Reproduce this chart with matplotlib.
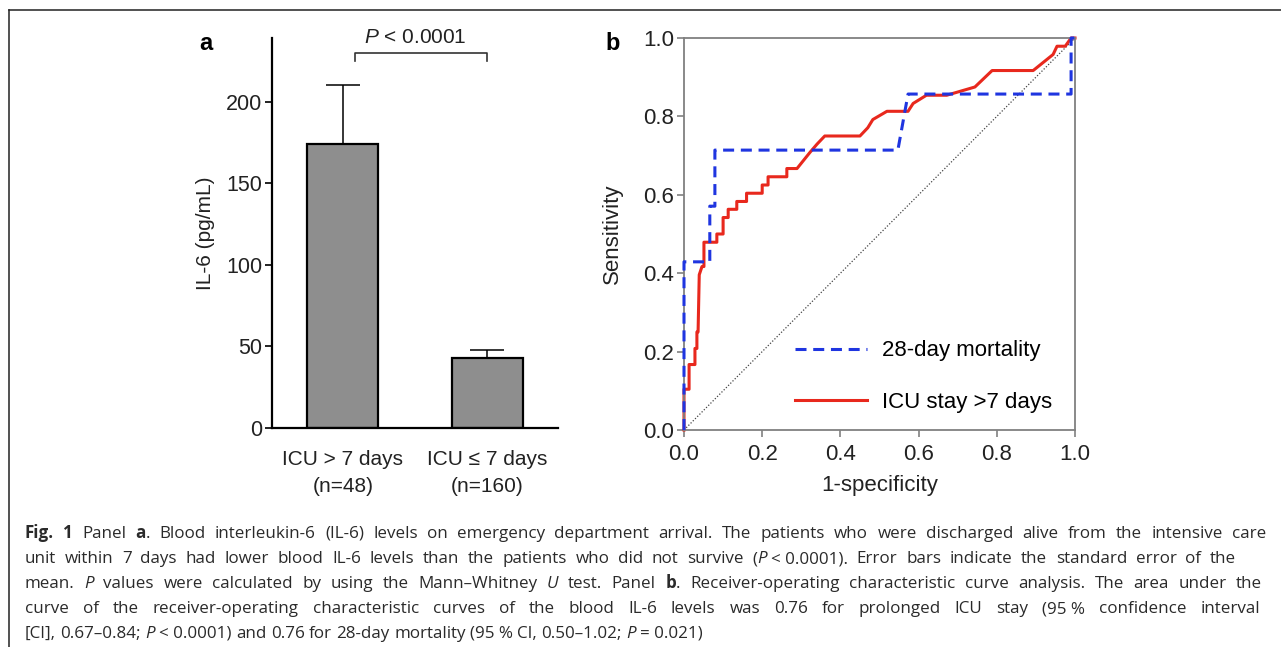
import matplotlib
matplotlib.use("Agg")
import matplotlib.pyplot as plt
from matplotlib.lines import Line2D

plt.rcParams['font.family'] = ['Liberation Sans', 'DejaVu Sans']
plt.rcParams['mathtext.fontset'] = 'custom'
plt.rcParams['mathtext.rm'] = 'Liberation Sans'
plt.rcParams['mathtext.it'] = 'Liberation Sans:italic'

W, H = 1281, 647

# panel a: IL-6 levels
groups = ['ICU > 7 days\n(n=48)', 'ICU \u2264 7 days\n(n=160)']
il6_mean = [174, 43]
il6_sem = [36, 5]
il6_ticks = [0, 50, 100, 150, 200]
p_text = '$P$ < 0.0001'

# panel b: ROC curves
mort_fpr = [0, 0, 0, 0, 0.066, 0.066, 0.079, 0.079, 0.547, 0.573, 0.99, 0.99, 1.0]
mort_tpr = [0, 0.143, 0.286, 0.429, 0.429, 0.571, 0.571, 0.714, 0.714, 0.857, 0.857, 1.0, 1.0]

icu_fpr = [0, 0, 0.013, 0.013, 0.028, 0.028, 0.033, 0.033, 0.036, 0.039, 0.046, 0.051,
           0.051, 0.084, 0.084, 0.100, 0.100, 0.113, 0.113, 0.135, 0.135, 0.160, 0.160,
           0.200, 0.200, 0.215, 0.215, 0.263, 0.263, 0.289, 0.322, 0.340, 0.360, 0.450,
           0.470, 0.483, 0.519, 0.573, 0.586, 0.620, 0.672, 0.744, 0.788, 0.893, 0.944,
           0.954, 0.975, 0.990, 1.0]
icu_tpr = [0, 0.104, 0.104, 0.167, 0.167, 0.208, 0.208, 0.250, 0.250, 0.396, 0.417, 0.417,
           0.479, 0.479, 0.500, 0.500, 0.542, 0.542, 0.563, 0.563, 0.583, 0.583, 0.604,
           0.604, 0.625, 0.625, 0.646, 0.646, 0.667, 0.667, 0.708, 0.729, 0.750, 0.750,
           0.771, 0.792, 0.813, 0.813, 0.833, 0.854, 0.854, 0.875, 0.917, 0.917, 0.958,
           0.979, 0.979, 1.0, 1.0]
roc_ticks = [0.0, 0.2, 0.4, 0.6, 0.8, 1.0]
roc_labels = ['28-day mortality', 'ICU stay >7 days']

# caption: *bold*  ~italic~  (non-breaking spaces are not stretched)
NB = '\u00a0'
caption_lines = [
    "*Fig. 1* Panel *a*. Blood interleukin-6 (IL-6) levels on emergency department arrival. The patients who were discharged alive from the intensive care",
    "unit within 7 days had lower blood IL-6 levels than the patients who did not survive (~P~" + NB + "<" + NB + "0.0001). Error bars indicate the standard error of the",
    "mean. ~P~ values were calculated by using the Mann\u2013Whitney ~U~ test. Panel *b*. Receiver-operating characteristic curve analysis. The area under the",
    "curve of the receiver-operating characteristic curves of the blood IL-6 levels was 0.76 for prolonged ICU stay (95" + NB + "% confidence interval",
    "[CI], 0.67\u20130.84; ~P~" + NB + "<" + NB + "0.0001) and 0.76 for 28-day mortality (95" + NB + "% CI, 0.50\u20131.02; ~P~" + NB + "=" + NB + "0.021)",
]
caption_ends = [1266, 1236, 1262, 1260, None]
last_line_end = 700

fig = plt.figure(figsize=(W / 100, H / 100), dpi=100)

# ---- panel a
ax1 = fig.add_axes([272 / W, 1 - 428 / H, 286 / W, 390 / H])
x = range(len(groups))
ax1.bar(x, il6_mean, width=0.49, color='#8e8e8e', edgecolor='black', linewidth=1.6, zorder=2)
ax1.errorbar(x, il6_mean, yerr=[[0] * len(il6_sem), il6_sem], fmt='none', ecolor='black',
             elinewidth=1.1, capsize=12.5, capthick=1.1, zorder=1)
ax1.set_xlim(-0.49, 1.49)
ax1.set_ylim(0, 239)
ax1.set_yticks(il6_ticks)
ax1.set_xticks(list(x))
ax1.set_xticklabels(groups, linespacing=1.55)
for s in ['top', 'right']:
    ax1.spines[s].set_visible(False)
for s in ['left', 'bottom']:
    ax1.spines[s].set_linewidth(1.6)
ax1.tick_params(axis='y', length=5, width=1.4, pad=2, labelsize=15.5, colors='#222222')
ax1.tick_params(axis='x', length=0, pad=16, labelsize=15, colors='#222222')
ax1.set_ylabel('IL-6 (pg/mL)', fontsize=15, color='#222222')
ax1.yaxis.set_label_coords(-0.2, 0.5)

# significance bracket
bracket_y = 230
ax1.plot([0.083, 0.083, 1, 1], [bracket_y - 5, bracket_y, bracket_y, bracket_y - 5],
         color='#333333', lw=1.2, clip_on=False)
ax1.text(0.5, 239.5, p_text, ha='center', va='center', fontsize=15, color='#222222')

fig.text(206 / W, 1 - 50 / H, 'a', fontsize=17, fontweight='bold', ha='center', va='baseline')

# ---- panel b
ax2 = fig.add_axes([684 / W, 1 - 430 / H, 391 / W, 392 / H])
ax2.plot([0, 1], [0, 1], color='#444444', lw=0.9, ls=(0, (1, 1.5)), zorder=1)
ax2.plot(mort_fpr, mort_tpr, color='#1f35e0', lw=2.2, ls=(0, (3.6, 2.2)),
         label=roc_labels[0], clip_on=False, zorder=3)
ax2.plot(icu_fpr, icu_tpr, color='#e8281d', lw=2.2, label=roc_labels[1],
         clip_on=False, zorder=2)
ax2.set_xlim(0, 1)
ax2.set_ylim(0, 1)
ax2.set_xticks(roc_ticks)
ax2.set_yticks(roc_ticks)
ax2.set_xticklabels(['%.1f' % t for t in roc_ticks])
ax2.set_yticklabels(['%.1f' % t for t in roc_ticks])
for s in ax2.spines.values():
    s.set_color('#808080')
    s.set_linewidth(1.3)
ax2.tick_params(length=5, width=1.2, color='#808080', labelcolor='#222222', labelsize=16)
ax2.tick_params(axis='y', pad=2)
ax2.tick_params(axis='x', pad=5)
ax2.set_ylabel('Sensitivity', fontsize=16, color='#222222')
ax2.yaxis.set_label_coords(-0.156, 0.5)
ax2.set_xlabel('1-specificity', fontsize=16, color='#222222')
ax2.xaxis.set_label_coords(0.5, -0.115)
ax2.legend(loc='center left', bbox_to_anchor=(0.284, 0.136), frameon=False, fontsize=16,
           handlelength=3.25, handletextpad=0.65, labelspacing=1.38, borderpad=0,
           borderaxespad=0)

fig.text(605 / W, 1 - 50 / H, 'b', fontsize=17, fontweight='bold', ha='left', va='baseline')

# ---- frame lines
fig.add_artist(Line2D([9 / W, 1], [1 - 10 / H, 1 - 10 / H], color='#222222', lw=1.1))
fig.add_artist(Line2D([9 / W, 9 / W], [0, 1 - 10 / H], color='#222222', lw=1.1))

# ---- caption with mixed styles, justified line by line
cap_color = '#2a2a2a'
renderer = fig.canvas.get_renderer()


def parse(line):
    words = [[]]
    bold = ital = False
    for ch in line:
        if ch == '*':
            bold = not bold
            continue
        if ch == '~':
            ital = not ital
            continue
        if ch == ' ':
            words.append([])
            continue
        if ch == NB:
            ch = ' '
        st = 'b' if bold else ('i' if ital else 'n')
        w = words[-1]
        if w and w[-1][1] == st:
            w[-1][0] += ch
        else:
            w.append([ch, st])
    return [w for w in words if w]


def make_text(txt, st, fs):
    return fig.text(0, 0, txt, fontsize=fs, family='Open Sans', color=cap_color,
                    fontweight='bold' if st == 'b' else 'normal',
                    fontstyle='italic' if st == 'i' else 'normal',
                    ha='left', va='baseline')


def text_w(txt, st, fs):
    t = make_text(txt, st, fs)
    w = t.get_window_extent(renderer).width
    t.remove()
    return w


def space_width(fs):
    return text_w('a a', 'n', fs) - text_w('aa', 'n', fs)


def run_width(txt, st, fs):
    # keep leading/trailing spaces of a run in its width
    lead = len(txt) - len(txt.lstrip(' '))
    trail = len(txt) - len(txt.rstrip(' '))
    core = txt.strip(' ')
    w = text_w(core, st, fs) if core else 0
    return w + (lead + trail) * space_width(fs)


def natural_width(line, fs):
    words = parse(line)
    total = sum(run_width(txt, st, fs) for w in words for txt, st in w)
    return total + space_width(fs) * (len(words) - 1)


x0 = 25
# font size chosen so the unjustified last line ends about where it does in the figure
base_fs = 11
cap_fs = base_fs * (last_line_end - x0) / natural_width(caption_lines[-1], base_fs)
space_w = space_width(cap_fs)

y0 = 538
dy = 25.0
for i, (line, x_end) in enumerate(zip(caption_lines, caption_ends)):
    words = parse(line)
    arts, widths = [], []
    for w in words:
        runs, tw = [], 0
        for txt, st in w:
            lead = len(txt) - len(txt.lstrip(' '))
            t = make_text(txt.strip(' '), st, cap_fs)
            wp = run_width(txt, st, cap_fs)
            runs.append((t, wp, lead * space_w))
            tw += wp
        arts.append(runs)
        widths.append(tw)
    if x_end is None:
        gap = space_w
    else:
        gap = max(space_w, (x_end - x0 - sum(widths)) / (len(words) - 1))
    xc = x0
    y = y0 + i * dy
    for runs, tw in zip(arts, widths):
        xx = xc
        for t, wp, off in runs:
            t.set_position(((xx + off) / W, 1 - y / H))
            xx += wp
        xc += tw + gap

fig.savefig('out.png', dpi=100)
